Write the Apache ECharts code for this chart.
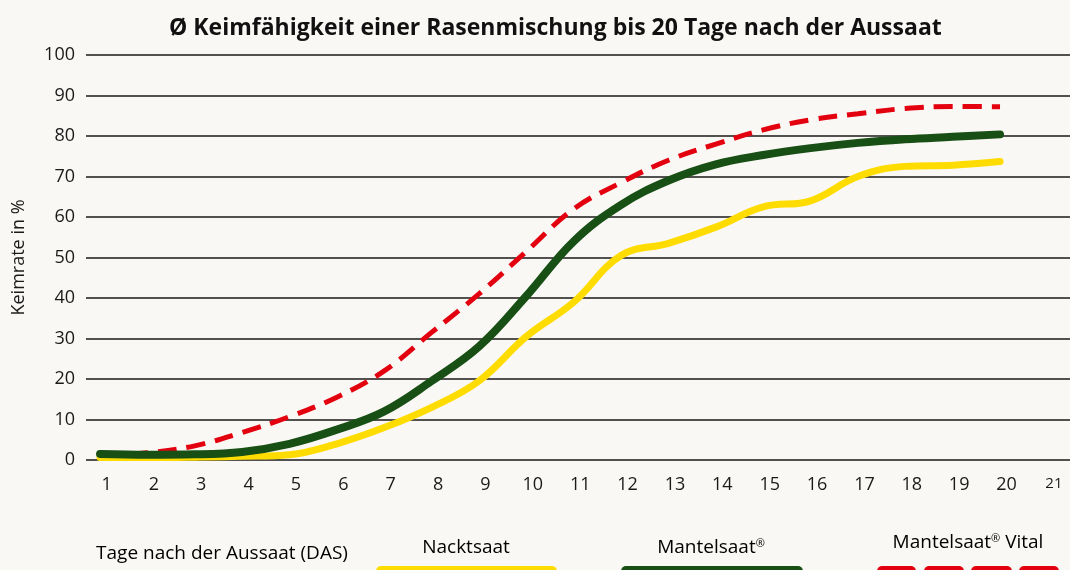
<!DOCTYPE html>
<html>
<head>
<meta charset="utf-8">
<script src="https://cdn.jsdelivr.net/npm/echarts@6/dist/echarts.min.js"></script>
<style>
  html, body { margin: 0; padding: 0; background: #faf8f4; }
  #chart { width: 1070px; height: 570px; }
</style>
</head>
<body>
<div id="chart"></div>
<script>
var days = [1, 2, 3, 4, 5, 6, 7, 8, 9, 10, 11, 12, 13, 14, 15, 16, 17, 18, 19, 20];
var dayLabels = [1, 2, 3, 4, 5, 6, 7, 8, 9, 10, 11, 12, 13, 14, 15, 16, 17, 18, 19, 20, 21];
var nacktsaat = [0.6, 0.6, 0.7, 0.9, 1.3, 4, 8, 13, 19.5, 30.5, 39, 50.5, 53.5, 57.5, 62.5, 64, 70, 72.5, 72.8, 73.7];
var mantelsaat = [1.5, 1.3, 1.4, 2, 4, 7.5, 12, 19.5, 28, 40.5, 54, 63, 69, 73, 75.3, 77, 78.3, 79.2, 79.8, 80.4];
var vital = [1.2, 1.8, 3.5, 6.8, 10.7, 15.5, 22, 31.5, 41, 51.5, 62, 68.5, 74, 78, 81.5, 84, 85.5, 86.8, 87.3, 87.2];
var yTicks = [0, 10, 20, 30, 40, 50, 60, 70, 80, 90, 100];

var FONT = 'Open Sans';
var cYellow = '#ffdc00';
var cGreen = '#184f15';
var cRed = '#e3000f';

function pairs(vals) {
	var out = [];
	for (var i = 0; i < days.length; i++) {
		out.push([days[i], vals[i]]);
	}
	return out;
}

var dom = document.getElementById('chart');
var myChart = echarts.init(dom);
// legend label style, ® set as superscript
var legRich = {
	n: { fontFamily: FONT, fontSize: 19, color: '#111', verticalAlign: 'bottom' },
	r: { fontFamily: FONT, fontSize: 11, color: '#111', verticalAlign: 'top', padding: [0, 0, 8, 0] }
};
function legendText(x, y, text) {
	return {
		type: 'text', x: x, y: y,
		style: { text: text, rich: legRich, align: 'center', verticalAlign: 'middle' }
	};
}
var option = {
	backgroundColor: '#faf8f4',
	textStyle: { fontFamily: FONT },
	title: {
		text: 'Ø Keimfähigkeit einer Rasenmischung bis 20 Tage nach der Aussaat',
		left: 164,
		top: 12,
		textStyle: { fontFamily: FONT, fontSize: 23, fontWeight: 'bold', color: '#111' }
	},
	grid: {
		left: 86,
		right: 0,
		top: 55,
		bottom: 110
	},
	xAxis: {
		type: 'value',
		min: 0.704,
		max: 21.477,
		axisLine: { show: false },
		axisTick: { show: false },
		splitLine: { show: false },
		axisLabel: {
			customValues: dayLabels,
			margin: 16,
			fontSize: 18,
			color: '#1a1a1a',
			padding: [0, 0, 0, 13],
			formatter: function (v) {
				return v === 21 ? '{s|21}' : String(v);
			},
			rich: {
				s: { fontSize: 15, color: '#1a1a1a', padding: [0, 0, 6, 0] }
			}
		}
	},
	yAxis: {
		type: 'value',
		min: 0,
		max: 100,
		interval: 10,
		name: 'Keimrate in %',
		nameLocation: 'middle',
		nameRotate: 90,
		nameGap: 58,
		nameTextStyle: { fontSize: 18, color: '#1a1a1a' },
		axisLine: { show: false },
		axisTick: { show: false },
		axisLabel: { margin: 11, fontSize: 18, color: '#1a1a1a' },
		splitLine: { lineStyle: { color: '#1a1a1a', width: 1.5 } }
	},
	series: [
		{
			name: 'Mantelsaat® Vital',
			type: 'line',
			data: pairs(vital),
			smooth: 0.4,
			showSymbol: false,
			lineStyle: { color: cRed, width: 5, type: [19, 10] },
			z: 2
		},
		{
			name: 'Nacktsaat',
			type: 'line',
			data: pairs(nacktsaat),
			smooth: 0.4,
			showSymbol: false,
			lineStyle: { color: cYellow, width: 7, cap: 'round' },
			z: 3
		},
		{
			name: 'Mantelsaat®',
			type: 'line',
			data: pairs(mantelsaat),
			smooth: 0.4,
			showSymbol: false,
			lineStyle: { color: cGreen, width: 8, cap: 'round' },
			z: 4
		}
	],
	graphic: [
		legendText(222, 554, '{n|Tage nach der Aussaat (DAS)}'),
		legendText(466, 548, '{n|Nacktsaat}'),
		legendText(711, 548, '{n|Mantelsaat}{r|®}'),
		legendText(968, 543, '{n|Mantelsaat}{r|®}{n| Vital}'),
		{ type: 'rect', shape: { x: 376, y: 566, width: 181, height: 12, r: 5 }, style: { fill: cYellow } },
		{ type: 'rect', shape: { x: 621, y: 566, width: 182, height: 12, r: 5 }, style: { fill: cGreen } },
		{ type: 'rect', shape: { x: 877, y: 566, width: 39, height: 12, r: 5 }, style: { fill: cRed } },
		{ type: 'rect', shape: { x: 924, y: 566, width: 40, height: 12, r: 5 }, style: { fill: cRed } },
		{ type: 'rect', shape: { x: 971, y: 566, width: 41, height: 12, r: 5 }, style: { fill: cRed } },
		{ type: 'rect', shape: { x: 1019, y: 566, width: 40, height: 12, r: 5 }, style: { fill: cRed } }
	]
};
if (option && typeof option === 'object') {
	myChart.setOption(option, true);
}
</script>
</body>
</html>
